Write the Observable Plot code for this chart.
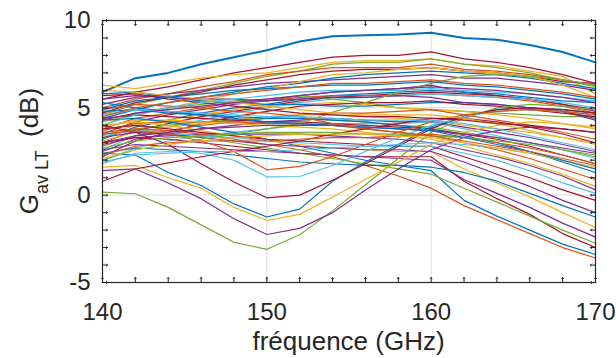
<!DOCTYPE html>
<html><head><meta charset="utf-8">
<script src="https://cdn.jsdelivr.net/npm/d3@7"></script>
<script src="https://cdn.jsdelivr.net/npm/@observablehq/plot@0.6"></script>
<style>body{margin:0;background:#fff}#chart{width:616px;height:358px}</style>
</head><body><div id="chart"></div>
<script>
const freqs = [140,142,144,146,148,150,152,154,156,158,160,162,164,166,168,170];
const xLabelTicks = [140,150,160,170];
const yLabelTicks = [-5,0,5,10];
const xMinorTicks = [140,142,144,146,148,150,152,154,156,158,160,162,164,166,168,170];
const yMinorTicks = [-5,-4,-3,-2,-1,0,1,2,3,4,5,6,7,8,9,10];
const gridX = [150,160];
const gridY = [0,5];
const palette = {b:"#0072BD", o:"#D95319", y:"#EDB120", p:"#7E2F8E", g:"#77AC30", c:"#4DBEEE", r:"#A2142F"};
const traceColors = ["b","r","y","g","o","r","p","b","y","p","b","r","o","c","g","y","b","p","r","o","y","p","g","c","r","b","o","y","p","o","b","r","g","p","y","b","p","r","c","g","p","y","b","r","c","o","g","r","c","o","g","p","y","b","o","c","y","r","b","o","c","p"];
const traceGains = [
[5.9,6.7,7.0,7.5,7.9,8.3,8.8,9.1,9.15,9.2,9.3,9.0,8.9,8.6,8.2,7.6],
[5.5,5.9,6.2,6.6,7.0,7.3,7.6,7.9,8.0,8.0,8.2,7.8,7.6,7.3,6.9,6.4],
[6.3,6.1,6.4,6.7,6.9,7.0,7.3,7.6,7.7,7.7,7.8,7.5,7.4,7.1,6.8,5.8],
[4.6,5.2,5.6,6.0,6.4,6.8,7.1,7.5,7.6,7.6,7.8,7.5,7.3,7.0,6.6,6.2],
[5.0,5.5,5.8,6.2,6.5,6.9,7.1,7.3,7.3,7.3,7.5,7.2,7.1,6.9,6.6,6.3],
[4.7,5.3,5.6,5.9,6.3,6.6,6.9,7.1,7.2,7.2,7.3,7.1,7.0,6.8,6.5,6.4],
[5.2,5.6,5.8,6.0,6.2,6.4,6.5,6.6,6.7,6.8,6.9,6.7,6.7,6.5,6.3,6.0],
[4.4,4.9,5.3,5.6,5.9,6.2,6.4,6.7,6.9,7.0,7.1,7.0,6.9,6.7,6.4,6.1],
[4.2,4.6,5.0,5.4,5.8,6.1,6.5,6.9,7.0,7.2,7.3,7.1,7.0,6.8,6.3,5.6],
[3.5,4.2,4.6,4.9,5.2,5.4,5.7,5.9,6.0,6.1,6.3,5.9,5.7,5.5,5.2,4.8],
[3.2,3.9,4.3,4.7,5.0,5.2,5.5,5.7,5.8,5.9,6.0,5.9,5.8,5.6,5.4,5.3],
[3.0,3.7,4.1,4.5,4.8,5.1,5.4,5.6,5.7,5.8,5.9,5.8,5.7,5.5,5.2,4.9],
[3.8,4.4,4.7,5.0,5.3,5.4,5.6,5.7,5.7,5.7,5.8,5.7,5.6,5.4,5.1,4.7],
[2.6,3.4,3.9,4.3,4.7,5.0,5.3,5.5,5.6,5.7,5.8,5.7,5.6,5.5,5.3,5.0],
[4.0,4.7,5.0,5.2,5.4,5.5,5.7,5.5,5.3,5.0,4.9,4.8,4.7,4.6,4.5,4.5],
[3.4,4.0,4.3,4.6,4.9,5.1,5.2,5.3,5.2,5.0,4.9,4.8,4.6,4.4,4.1,3.8],
[5.8,5.9,5.6,5.4,5.3,5.2,5.2,5.1,5.1,5.2,5.3,5.3,5.2,5.0,4.8,4.4],
[5.5,5.7,5.6,5.5,5.5,5.4,5.5,5.6,5.6,5.7,5.6,5.3,5.2,5.0,4.8,4.3],
[2.2,3.1,3.6,4.1,4.5,4.8,5.1,5.2,5.3,5.3,5.4,5.2,5.1,4.9,4.7,4.5],
[2.8,3.4,3.7,4.0,4.2,4.4,4.6,4.7,4.7,4.8,4.9,4.6,4.3,4.0,3.6,3.2],
[3.1,3.6,3.9,4.1,4.3,4.5,4.6,4.6,4.5,4.4,4.3,4.0,3.8,3.6,3.3,3.0],
[2.5,3.2,3.5,3.8,4.0,4.2,4.3,4.4,4.3,4.2,4.2,3.9,3.6,3.3,2.9,2.5],
[3.3,3.8,4.0,4.2,4.3,4.4,4.4,4.3,4.2,4.0,3.9,3.6,3.3,3.0,2.6,2.2],
[2.0,2.7,3.1,3.4,3.6,3.8,4.0,4.1,4.1,4.1,4.2,3.8,3.4,3.0,2.6,2.1],
[4.4,4.6,4.5,4.4,4.3,4.2,4.2,4.1,4.0,3.9,3.8,3.5,3.2,2.8,2.3,1.8],
[4.8,4.9,4.7,4.6,4.5,4.4,4.4,4.3,4.2,4.0,3.8,3.4,3.0,2.5,1.9,1.3],
[3.7,4.1,4.2,4.2,4.2,4.1,4.1,4.0,3.8,3.6,3.4,3.0,2.6,2.1,1.5,0.9],
[3.9,4.3,4.3,4.2,4.1,4.0,3.9,3.8,3.6,3.4,3.2,2.8,2.3,1.8,1.2,0.5],
[2.9,3.3,3.4,3.5,3.5,3.5,3.5,3.4,3.3,3.2,3.0,2.6,2.2,1.7,1.1,0.3],
[3.6,3.8,3.7,3.5,3.2,2.9,2.6,2.2,1.7,1.1,0.4,-0.6,-1.4,-2.2,-3.0,-3.6],
[4.3,4.4,4.2,3.9,3.6,3.2,2.8,2.4,2.0,1.7,1.4,-0.3,-1.2,-2.0,-2.8,-3.4],
[3.0,3.3,3.2,3.0,2.8,2.6,2.4,2.3,2.2,2.2,2.2,0.8,-0.2,-1.1,-2.2,-3.0],
[3.5,3.7,3.5,3.3,3.0,2.7,2.4,2.1,1.8,1.5,1.2,0.4,-0.4,-1.2,-2.0,-2.75],
[2.6,2.9,2.8,2.7,2.6,2.5,2.4,2.3,2.2,2.1,2.0,0.9,0.1,-0.7,-1.6,-2.4],
[4.0,4.2,4.0,3.7,3.4,3.1,2.9,2.7,2.6,2.5,2.5,1.5,0.7,-0.1,-1.0,-1.85],
[2.4,2.7,2.6,2.5,2.3,2.1,1.9,1.8,1.7,1.7,1.6,1.3,0.8,0.1,-0.6,-1.25],
[3.3,3.6,3.5,3.3,3.1,2.9,2.8,2.7,2.6,2.6,2.5,1.9,1.2,0.5,-0.3,-1.0],
[3.8,4.0,3.8,3.6,3.4,3.2,3.1,3.0,2.9,2.8,2.8,2.2,1.6,1.0,0.3,-0.3],
[3.4,3.7,3.6,3.4,3.3,3.1,3.0,2.9,2.8,2.8,2.8,2.4,2.0,1.4,0.7,0.1],
[0.17,0.08,-0.7,-1.7,-2.7,-3.1,-2.27,-0.9,0.6,2.1,3.6,4.4,5.0,5.2,5.1,4.9],
[1.4,1.5,0.7,-0.2,-1.35,-2.25,-1.9,-1.0,0.3,1.5,2.6,3.3,3.7,3.9,3.8,3.6],
[1.6,1.7,1.0,0.4,-0.7,-1.45,-1.1,-0.1,0.9,1.9,2.9,3.6,4.0,4.2,4.1,3.9],
[2.4,2.3,1.3,0.55,-0.5,-1.25,-0.8,0.8,1.9,2.9,3.9,4.5,4.9,5.0,4.9,4.7],
[4.0,3.6,2.9,1.8,0.75,-0.15,0.0,0.85,1.8,2.8,3.8,4.5,4.9,5.0,4.9,4.7],
[1.8,2.4,2.5,2.4,2.0,1.05,1.07,1.7,2.5,3.3,4.0,4.5,4.8,4.9,4.8,4.6],
[3.5,3.7,3.5,3.1,2.5,1.45,1.65,2.2,2.9,3.6,4.2,4.6,4.8,4.9,4.8,4.6],
[2.0,2.6,2.9,3.2,3.5,3.8,4.1,4.75,5.3,5.9,6.4,6.8,6.9,6.8,6.6,6.3],
[0.8,1.5,1.85,2.2,2.5,2.8,3.1,3.5,3.8,4.1,4.4,4.4,4.2,3.9,3.5,3.0],
[1.9,2.3,2.4,2.5,2.5,2.5,2.6,2.7,2.8,2.9,3.0,2.9,2.7,2.4,2.0,1.5],
[2.3,2.8,3.0,3.1,3.1,3.1,3.2,3.3,3.3,3.4,3.5,3.3,3.0,2.7,2.3,1.8],
[2.7,3.1,3.3,3.4,3.5,3.6,3.6,3.6,3.5,3.5,3.4,3.3,3.1,2.9,2.6,2.3],
[3.0,3.4,3.6,3.8,3.9,4.0,4.0,4.0,3.9,3.8,3.7,3.5,3.3,3.0,2.7,2.4],
[2.1,2.6,2.9,3.1,3.3,3.4,3.5,3.5,3.5,3.4,3.3,3.0,2.7,2.4,2.0,1.6],
[5.3,5.0,4.8,4.6,4.4,4.2,4.1,4.0,3.9,3.8,3.7,3.3,2.9,2.5,2.0,1.5],
[4.9,5.2,5.1,5.0,4.8,4.7,4.5,4.1,3.8,3.6,3.4,3.1,2.8,2.5,2.1,1.7],
[4.6,4.9,4.8,4.7,4.6,4.5,4.5,4.4,4.3,4.3,4.3,4.1,3.8,3.4,3.0,2.6],
[6.0,5.9,5.7,5.5,5.3,5.1,4.9,4.7,4.6,4.6,4.6,4.4,4.1,3.7,3.3,2.9],
[5.7,5.8,5.5,5.3,5.1,4.9,4.7,4.6,4.5,4.5,4.4,4.3,4.1,4.0,3.8,3.6],
[4.9,5.4,5.6,5.8,6.0,6.1,6.2,6.3,6.3,6.4,6.5,6.3,6.2,6.0,5.8,5.5],
[4.5,5.0,5.3,5.6,5.8,6.0,6.2,6.4,6.4,6.5,6.6,6.4,6.3,6.1,5.9,5.6],
[4.0,4.6,5.0,5.3,5.5,5.7,5.9,6.0,6.0,6.0,6.1,6.0,5.9,5.8,5.6,5.4],
[4.3,4.7,4.9,5.1,5.3,5.5,5.7,5.9,6.0,6.1,6.2,6.1,6.0,5.8,5.6,5.3]
];

const axisColor = "#262626";
const lineMarks = traceGains.map((vals, k) => Plot.line(
  freqs.map((f, i) => ({f, g: vals[i]})),
  {x: "f", y: "g", stroke: palette[traceColors[k]], strokeWidth: k === 0 ? 2 : 1.2}
));

const plot = Plot.plot({
  width: 616, height: 358,
  marginLeft: 102, marginRight: 21, marginTop: 20, marginBottom: 76,
  x: {domain: [140, 170]},
  y: {domain: [-5, 10]},
  style: {fontFamily: "'Liberation Sans', Arial, Helvetica, sans-serif", fontSize: "24px", color: axisColor, background: "#fff", overflow: "visible"},
  marks: [
    Plot.ruleX(gridX, {stroke: "#dedede", strokeWidth: 1}),
    Plot.ruleY(gridY, {stroke: "#dedede", strokeWidth: 1}),
    ...lineMarks,
    Plot.frame({stroke: axisColor, strokeWidth: 1.2}),
    Plot.vector(xMinorTicks, {x: d => d, frameAnchor: "bottom", rotate: 0, length: 5, anchor: "start", stroke: axisColor, strokeWidth: 1}),
    Plot.vector(xMinorTicks, {x: d => d, frameAnchor: "top", rotate: 180, length: 5, anchor: "start", stroke: axisColor, strokeWidth: 1}),
    Plot.vector(yMinorTicks, {y: d => d, frameAnchor: "left", rotate: 90, length: 5, anchor: "start", stroke: axisColor, strokeWidth: 1}),
    Plot.vector(yMinorTicks, {y: d => d, frameAnchor: "right", rotate: -90, length: 5, anchor: "start", stroke: axisColor, strokeWidth: 1}),
    Plot.axisX({ticks: xLabelTicks, tickSize: 0, tickPadding: 20, label: null, tickFormat: d => String(d)}),
    Plot.axisY({ticks: yLabelTicks, tickSize: 0, tickPadding: 12, label: null, tickFormat: d => String(d)})
  ]
});

const svg = d3.select(plot);
const yt = svg.append("text")
  .attr("transform", "translate(38,151) rotate(-90)")
  .attr("text-anchor", "middle")
  .attr("fill", axisColor)
  .style("font-size", "26px");
yt.append("tspan").text("G");
yt.append("tspan").attr("dy", 10).style("font-size", "18px").text("av LT");
yt.append("tspan").attr("dy", -10).attr("dx", 6).text(" (dB)");

svg.append("text")
  .attr("x", 348.5).attr("y", 350)
  .attr("text-anchor", "middle")
  .attr("fill", axisColor)
  .style("font-size", "26px")
  .text("fréquence (GHz)");

document.getElementById("chart").appendChild(plot);
</script>
</body></html>
